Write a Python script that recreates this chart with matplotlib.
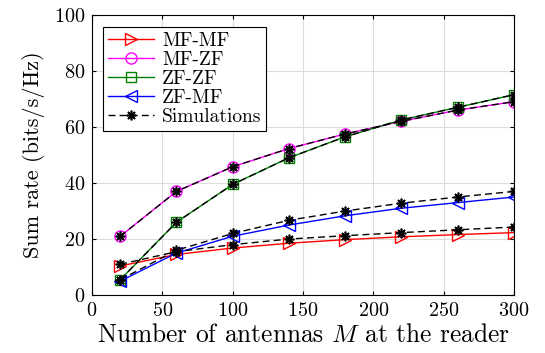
import numpy as np
import matplotlib
matplotlib.use("Agg")
import matplotlib.pyplot as plt

plt.rcParams['font.family'] = 'serif'
plt.rcParams['font.serif'] = ['cmr10']
plt.rcParams['mathtext.fontset'] = 'cm'
plt.rcParams['axes.formatter.use_mathtext'] = True

# Données
M = [20, 60, 100, 140, 180, 220, 260, 300]
mf_mf = [10.4, 14.5, 16.8, 18.5, 19.8, 20.8, 21.6, 22.3]
mf_zf = [21.0, 37.0, 45.8, 52.3, 57.5, 62.0, 66.0, 69.0]
zf_zf = [5.5, 26.0, 39.5, 49.0, 56.5, 62.5, 67.0, 71.5]
zf_mf = [5.0, 15.0, 21.0, 25.0, 28.3, 31.0, 33.0, 35.0]

sim_mf_mf = [11.0, 15.5, 18.0, 20.0, 21.2, 22.3, 23.3, 24.3]
sim_mf_zf = [21.0, 37.0, 45.8, 52.3, 57.5, 62.0, 66.0, 69.0]
sim_zf_zf = [5.5, 26.0, 39.5, 49.0, 56.5, 62.5, 67.0, 71.5]
sim_zf_mf = [5.5, 16.0, 22.0, 26.7, 30.0, 32.8, 35.0, 37.0]

fig = plt.figure(figsize=(5.45, 3.53), dpi=100)
ax = fig.add_axes([0.169, 0.164, 0.774, 0.794])

ms = 8
ax.plot(M, mf_mf, '-', color='red', marker='>', mfc='none', ms=ms, lw=1, label='MF-MF')
ax.plot(M, mf_zf, '-', color='magenta', marker='o', mfc='none', ms=ms, lw=1, label='MF-ZF')
ax.plot(M, zf_zf, '-', color='green', marker='s', mfc='none', ms=ms - 1, lw=1, label='ZF-ZF')
ax.plot(M, zf_mf, '-', color='blue', marker='<', mfc='none', ms=ms, lw=1, label='ZF-MF')

# astérisque façon MATLAB
star = (8, 2, 0)
for i, sim in enumerate([sim_mf_mf, sim_mf_zf, sim_zf_zf, sim_zf_mf]):
    ax.plot(M, sim, '--', color='black', marker=star, ms=7, mew=1.2, lw=1, dashes=(5, 3),
            label='Simulations' if i == 0 else None)

ax.set_xlim(0, 300)
ax.set_ylim(0, 100)
ax.set_xticks(np.arange(0, 301, 50))
ax.set_yticks(np.arange(0, 101, 20))
ax.grid(True, color='#dddddd', lw=0.8)
ax.set_axisbelow(True)
ax.tick_params(direction='in', labelsize=14.5, top=True, right=True, length=3, pad=5)
ax.set_xlabel('Number of antennas $M$ at the reader', fontsize=18.3, labelpad=2)
ax.set_ylabel('Sum rate (bits/s/Hz)', fontsize=16, labelpad=6)

leg = ax.legend(loc='upper left', bbox_to_anchor=(0.025, 0.955), fontsize=14,
                fancybox=False, edgecolor='black', framealpha=1, handlelength=2.4,
                borderpad=0.25, labelspacing=0.05, handletextpad=0.4, borderaxespad=0)
leg.get_frame().set_linewidth(0.8)

fig.savefig('out.png', dpi=100)
